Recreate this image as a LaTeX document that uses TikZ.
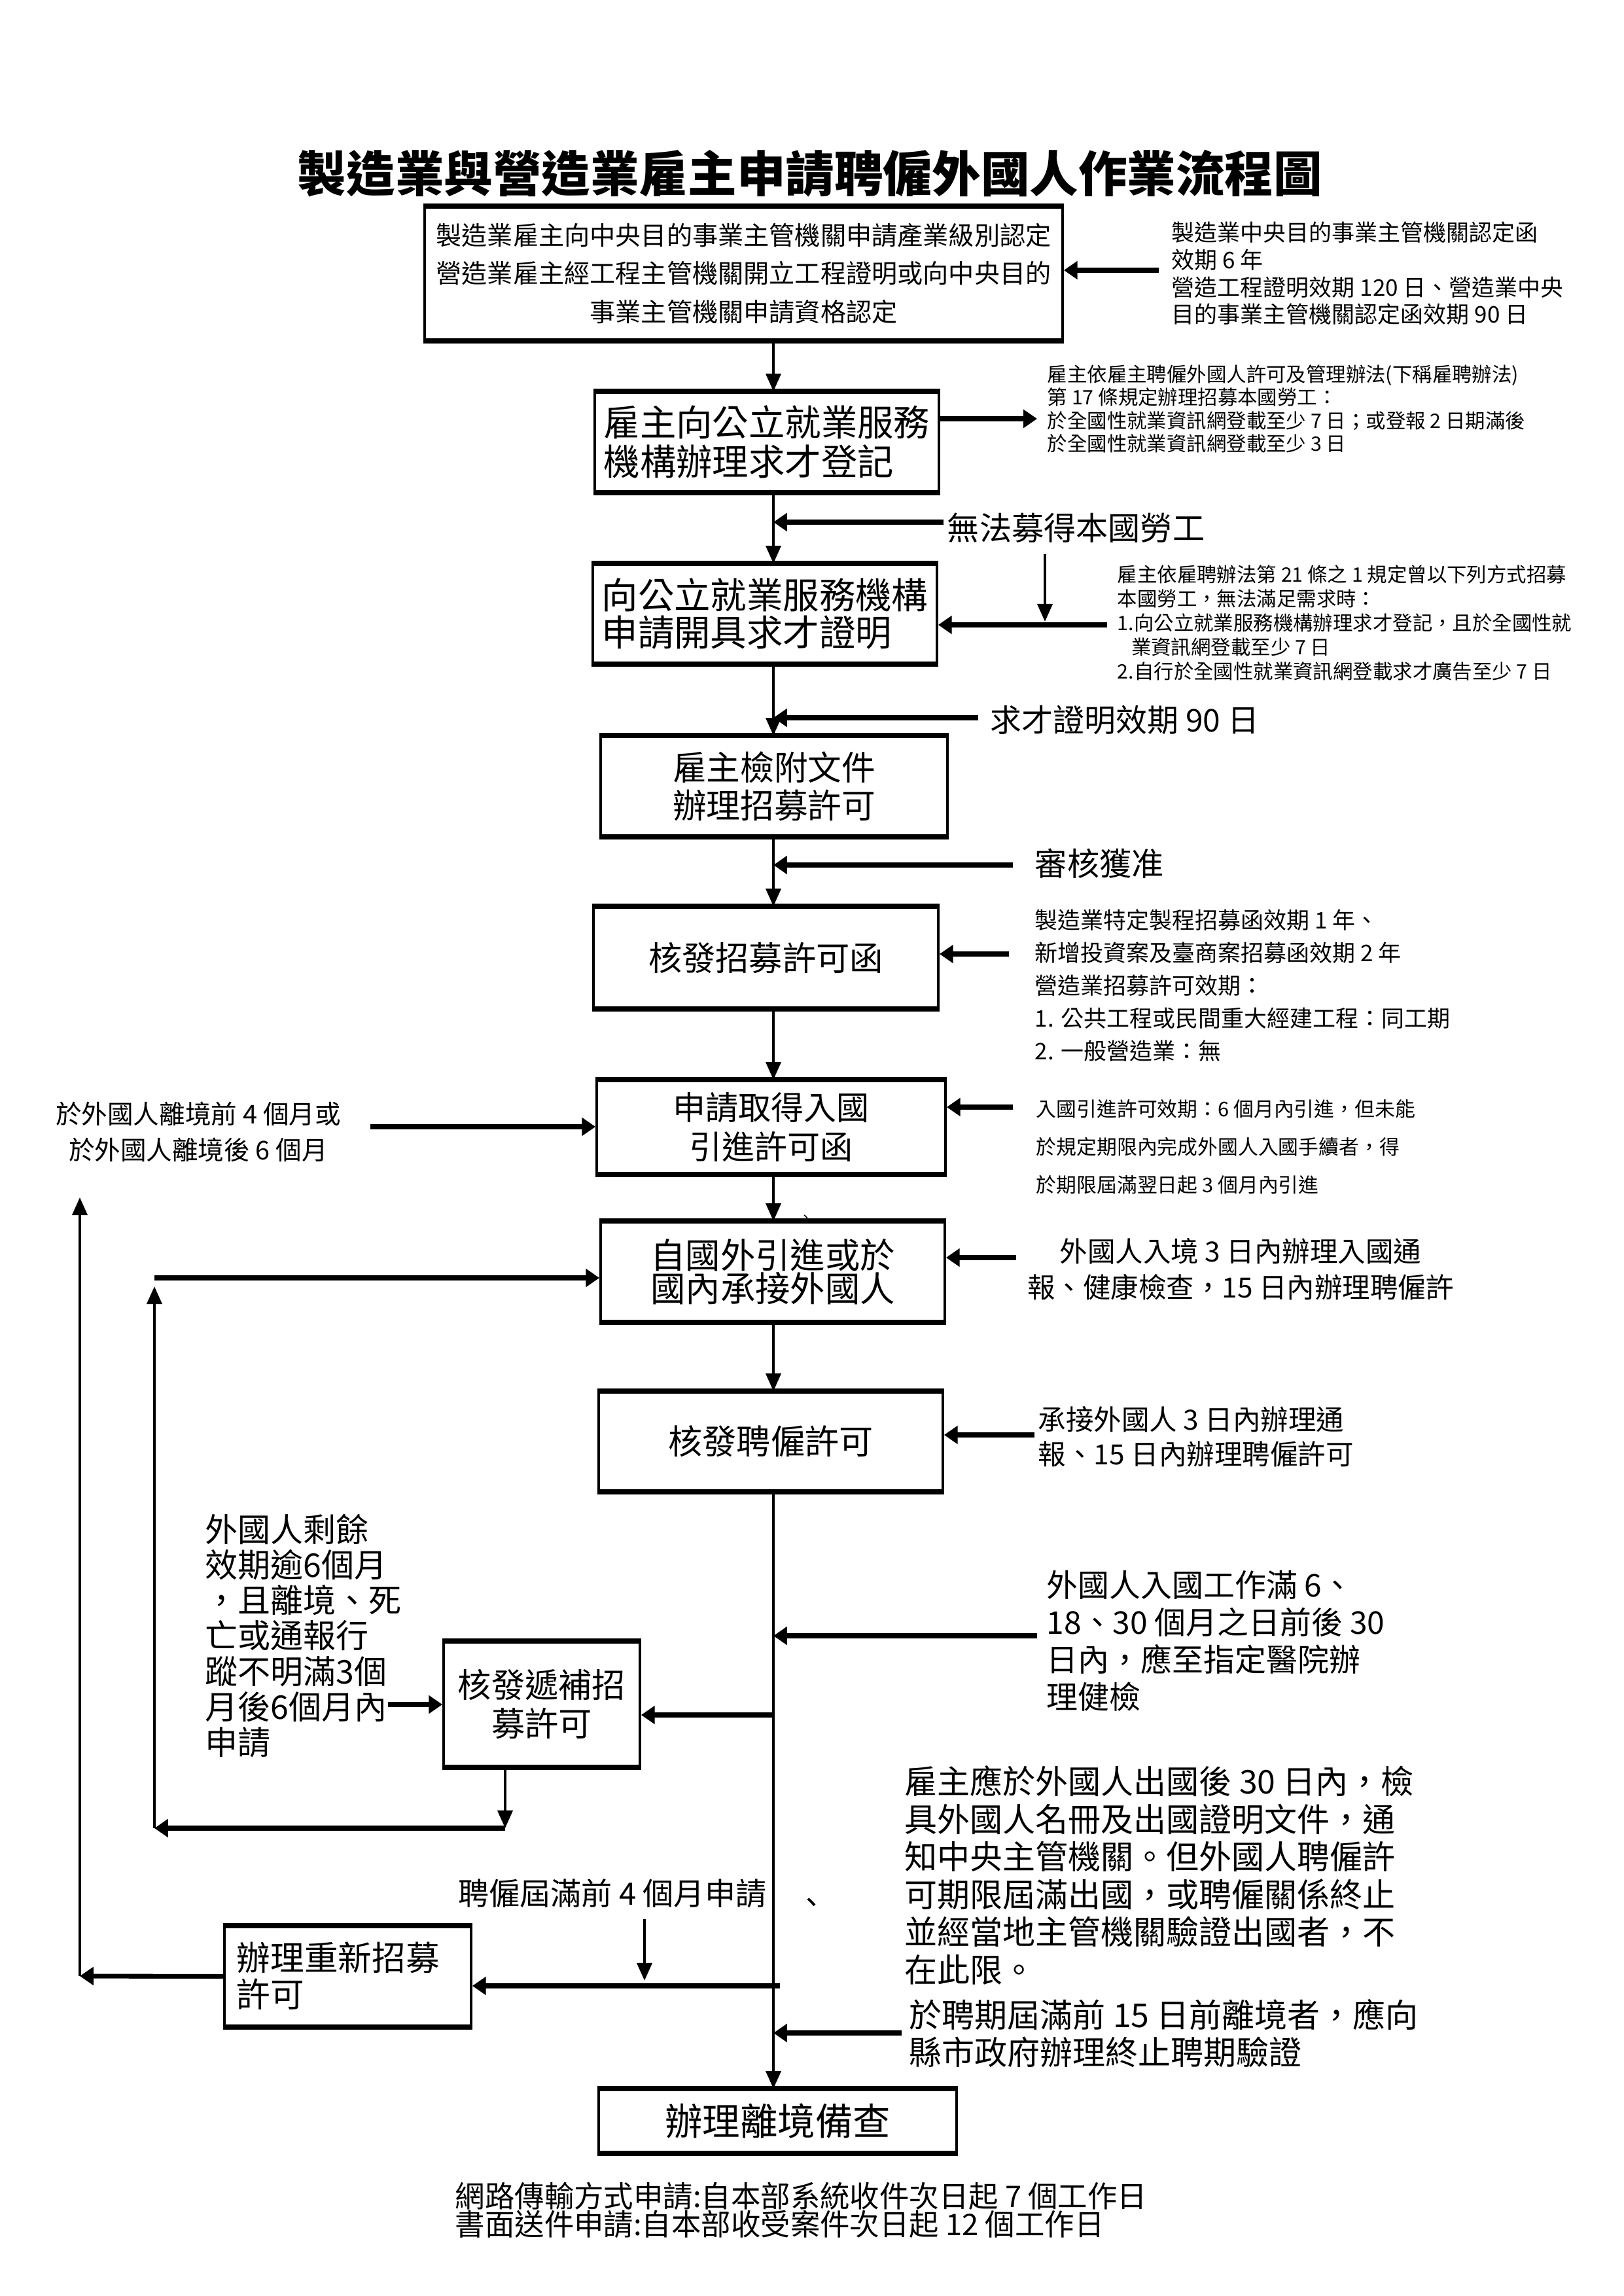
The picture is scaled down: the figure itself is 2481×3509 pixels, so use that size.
\documentclass[tikz,border=0pt]{standalone}
\usepackage{fontspec}
\setmainfont{Noto Sans CJK TC}
\usetikzlibrary{arrows.meta}
\newcommand\fsz[2]{\fontsize{#1pt}{#2pt}\selectfont}
\newcommand\flowbox[7]{%
  \node[box, minimum width={(#4-#2)*0.24pt}, minimum height={(#5-#3)*0.24pt}, #6] (#1) at ({(#2+#4)/2},{(#3+#5)/2}) {#7};
  \draw[line width=1.8pt] (#1.north west) -- (#1.north east) (#1.south west) -- (#1.south east);}
\begin{document}
\begin{tikzpicture}[x=0.24pt,y=-0.24pt,
  box/.style={draw, line width=0.9pt, inner sep=0pt, align=center},
  note/.style={inner sep=0pt, align=left, anchor=west},
  lbl/.style={inner sep=0pt},
  vline/.style={line width=1pt, -{Triangle[width=5.5pt,length=6.5pt]}},
  harrow/.style={line width=1.7pt, -{Triangle[width=6.5pt,length=5pt]}}]
\useasboundingbox (0,0) rectangle (2481,3509);
\coordinate (mx) at (1182,0);

\node[lbl, font=\bfseries\fsz{17.9}{22}] (title) at (1238,265) {製造業與營造業雇主申請聘僱外國人作業流程圖};

% box 1
\flowbox{b1}{649}{317}{1624}{519}{font=\fsz{9.4}{14}}{製造業雇主向中央目的事業主管機關申請產業級別認定\\營造業雇主經工程主管機關開立工程證明或向中央目的\\事業主管機關申請資格認定}
\node[note, font=\fsz{8.4}{10}] (n1) at (1790,418) {製造業中央目的事業主管機關認定函\\效期 6 年\\營造工程證明效期 120 日、營造業中央\\目的事業主管機關認定函效期 90 日};
\coordinate (a1s) at (1771,413);
\draw[harrow] (a1s) -- (a1s -| b1.east);

% box 2
\flowbox{b2}{909}{600}{1435}{751}{font=\fsz{13.3}{14.4}, align=left}{雇主向公立就業服務\\機構辦理求才登記}
\coordinate (a2e) at (1585,640);
\draw[harrow] (a2e -| b2.east) -- (a2e);
\node[note, font=\fsz{7.3}{8.5}] (n2) at (1600,625) {雇主依雇主聘僱外國人許可及管理辦法(下稱雇聘辦法)\\第 17 條規定辦理招募本國勞工：\\於全國性就業資訊網登載至少 7 日；或登報 2 日期滿後\\於全國性就業資訊網登載至少 3 日};
\draw[vline] (b1.south -| mx) -- (b2.north -| mx);

\node[lbl, anchor=west, font=\fsz{11.8}{14}] (tw) at (1447,807) {無法募得本國勞工};
\coordinate (a3s) at (1442,798);
\draw[harrow] (a3s) -- (a3s -| mx);
\coordinate (a4s) at (1597,847);
\coordinate (a4e) at (1597,950);
\draw[vline] (a4s) -- (a4e);

% box 3
\flowbox{b3}{906}{863}{1432}{1013}{font=\fsz{13.3}{13.6}, align=left}{向公立就業服務機構\\申請開具求才證明}
\coordinate (a5s) at (1692,955);
\draw[harrow] (a5s) -- (a5s -| b3.east);
\node[note, font=\fsz{7.3}{8.9}] (n3) at (1707,952) {雇主依雇聘辦法第 21 條之 1 規定曾以下列方式招募\\本國勞工，無法滿足需求時：\\1.向公立就業服務機構辦理求才登記，且於全國性就\\\hspace*{0.7em}業資訊網登載至少 7 日\\2.自行於全國性就業資訊網登載求才廣告至少 7 日};
\draw[vline] (b2.south -| mx) -- (b3.north -| mx);

\node[lbl, anchor=west, font=\fsz{11.5}{14}] (tq) at (1513,1100) {求才證明效期 90 日};
\coordinate (a6s) at (1495,1097);
\draw[harrow] (a6s) -- (a6s -| mx);

% box 4
\flowbox{b4}{918}{1126}{1448}{1277}{font=\fsz{12.4}{14}}{雇主檢附文件\\辦理招募許可}
\draw[vline] (b3.south -| mx) -- (b4.north -| mx);
\node[lbl, anchor=west, font=\fsz{11.8}{14}] (ts) at (1581,1320) {審核獲准};
\coordinate (a7s) at (1548,1322);
\draw[harrow] (a7s) -- (a7s -| mx);

% box 5
\flowbox{b5}{907}{1387}{1434}{1540}{font=\fsz{12.3}{14}}{核發招募許可函}
\draw[vline] (b4.south -| mx) -- (b5.north -| mx);
\node[note, font=\fsz{8.4}{12}] (n5) at (1581,1506) {製造業特定製程招募函效期 1 年、\\新增投資案及臺商案招募函效期 2 年\\營造業招募許可效期：\\1. 公共工程或民間重大經建工程：同工期\\2. 一般營造業：無};
\coordinate (a8s) at (1542,1458);
\draw[harrow] (a8s) -- (a8s -| b5.east);

% box 6
\flowbox{b6}{912}{1652}{1445}{1793}{font=\fsz{12}{14.4}}{申請取得入國\\引進許可函}
\draw[vline] (b5.south -| mx) -- (b6.north -| mx);
\node[lbl, align=center, font=\fsz{9.5}{13.2}] (n6l) at (303,1730) {於外國人離境前 4 個月或\\於外國人離境後 6 個月};
\coordinate (a9s) at (566,1722);
\draw[harrow] (a9s) -- (a9s -| b6.west);
\node[note, font=\fsz{7.4}{14}] (n6r) at (1583,1753) {入國引進許可效期：6 個月內引進，但未能\\於規定期限內完成外國人入國手續者，得\\於期限屆滿翌日起 3 個月內引進};
\coordinate (a10s) at (1548,1692);
\draw[harrow] (a10s) -- (a10s -| b6.east);
\node[lbl, font=\fsz{5}{6}] (tick1) at (1232,1862) {、};

% box 7
\flowbox{b7}{918}{1868}{1444}{2019}{font=\fsz{12.8}{12.2}}{自國外引進或於\\國內承接外國人}
\draw[vline] (b6.south -| mx) -- (b7.north -| mx);
\node[lbl, align=center, font=\fsz{10.2}{13.2}] (n7) at (1896,1940) {外國人入境 3 日內辦理入國通\\報、健康檢查，15 日內辦理聘僱許};
\coordinate (a11s) at (1553,1922);
\draw[harrow] (a11s) -- (a11s -| b7.east);
\coordinate (L1t) at (236,1966);
\coordinate (L1b) at (236,2794);
\coordinate (L1h) at (236,1953);
\draw[harrow] (L1h) -- (L1h -| b7.west);

% box 8
\flowbox{b8}{915}{2128}{1441}{2278}{font=\fsz{12.5}{14}}{核發聘僱許可}
\draw[vline] (b7.south -| mx) -- (b8.north -| mx);
\node[note, font=\fsz{10.2}{12.7}] (n8) at (1586,2196) {承接外國人 3 日內辦理通\\報、15 日內辦理聘僱許可};
\coordinate (a12s) at (1581,2193);
\draw[harrow] (a12s) -- (a12s -| b8.east);

\node[note, font=\fsz{11.5}{13.7}] (n9) at (1599,2508) {外國人入國工作滿 6、\\18、30 個月之日前後 30\\日內，應至指定醫院辦\\理健檢};
\coordinate (a13s) at (1585,2500);
\draw[harrow] (a13s) -- (a13s -| mx);

% box 9
\flowbox{b9}{678}{2510}{978}{2699}{font=\fsz{12.3}{14.2}}{核發遞補招\\募許可}
\coordinate (a14s) at (1182,2621);
\draw[harrow] (a14s) -- (a14s -| b9.east);
\node[note, font=\fsz{12}{13}] (n10) at (313,2500) {外國人剩餘\\效期逾6個月\\，且離境、死\\亡或通報行\\蹤不明滿3個\\月後6個月內\\申請};
\coordinate (a15s) at (593,2605);
\draw[harrow] (a15s) -- (a15s -| b9.west);
\coordinate (b9d) at (772,2794);
\draw[vline] (b9.south -| b9d) -- (b9d);
\draw[harrow] (b9d) -- (L1b);
\draw[vline] (L1b) -- (L1t);

% box 10
\node[lbl, anchor=east, font=\fsz{11.3}{14}] (tp) at (1172,2894) {聘僱屆滿前 4 個月申請};
\node[lbl, font=\fsz{11}{12}] (tick2) at (1240,2913) {、};
\coordinate (a16s) at (985,2933);
\coordinate (a16e) at (985,3027);
\draw[vline] (a16s) -- (a16e);
\flowbox{b10}{343}{2945}{720}{3096}{}{}
\node[note, font=\fsz{12.4}{13.4}] (t10) at (361,3020) {辦理重新招募\\許可};
\coordinate (a17s) at (1192,3035);
\draw[harrow] (a17s) -- (a17s -| b10.east);
\coordinate (L2b) at (122,3020);
\coordinate (L2t) at (122,1830);
\draw[harrow] (b10.west) -- (L2b);
\draw[vline] (L2b) -- (L2t);

\node[note, font=\fsz{12}{13.8}] (n11) at (1382,2866) {雇主應於外國人出國後 30 日內，檢\\具外國人名冊及出國證明文件，通\\知中央主管機關。但外國人聘僱許\\可期限屆滿出國，或聘僱關係終止\\並經當地主管機關驗證出國者，不\\在此限。};
\node[note, font=\fsz{12}{13.7}] (n12) at (1389,3108) {於聘期屆滿前 15 日前離境者，應向\\縣市政府辦理終止聘期驗證};
\coordinate (a19s) at (1378,3107);
\draw[harrow] (a19s) -- (a19s -| mx);

% final box
\flowbox{bf}{915}{3194}{1462}{3289}{font=\fsz{13.8}{16}}{辦理離境備查}
\draw[vline] (b8.south -| mx) -- (bf.north -| mx);

\node[note, font=\fsz{10.9}{10.3}] (foot) at (695,3378) {網路傳輸方式申請:自本部系統收件次日起 7 個工作日\\書面送件申請:自本部收受案件次日起 12 個工作日};
\end{tikzpicture}
\end{document}
